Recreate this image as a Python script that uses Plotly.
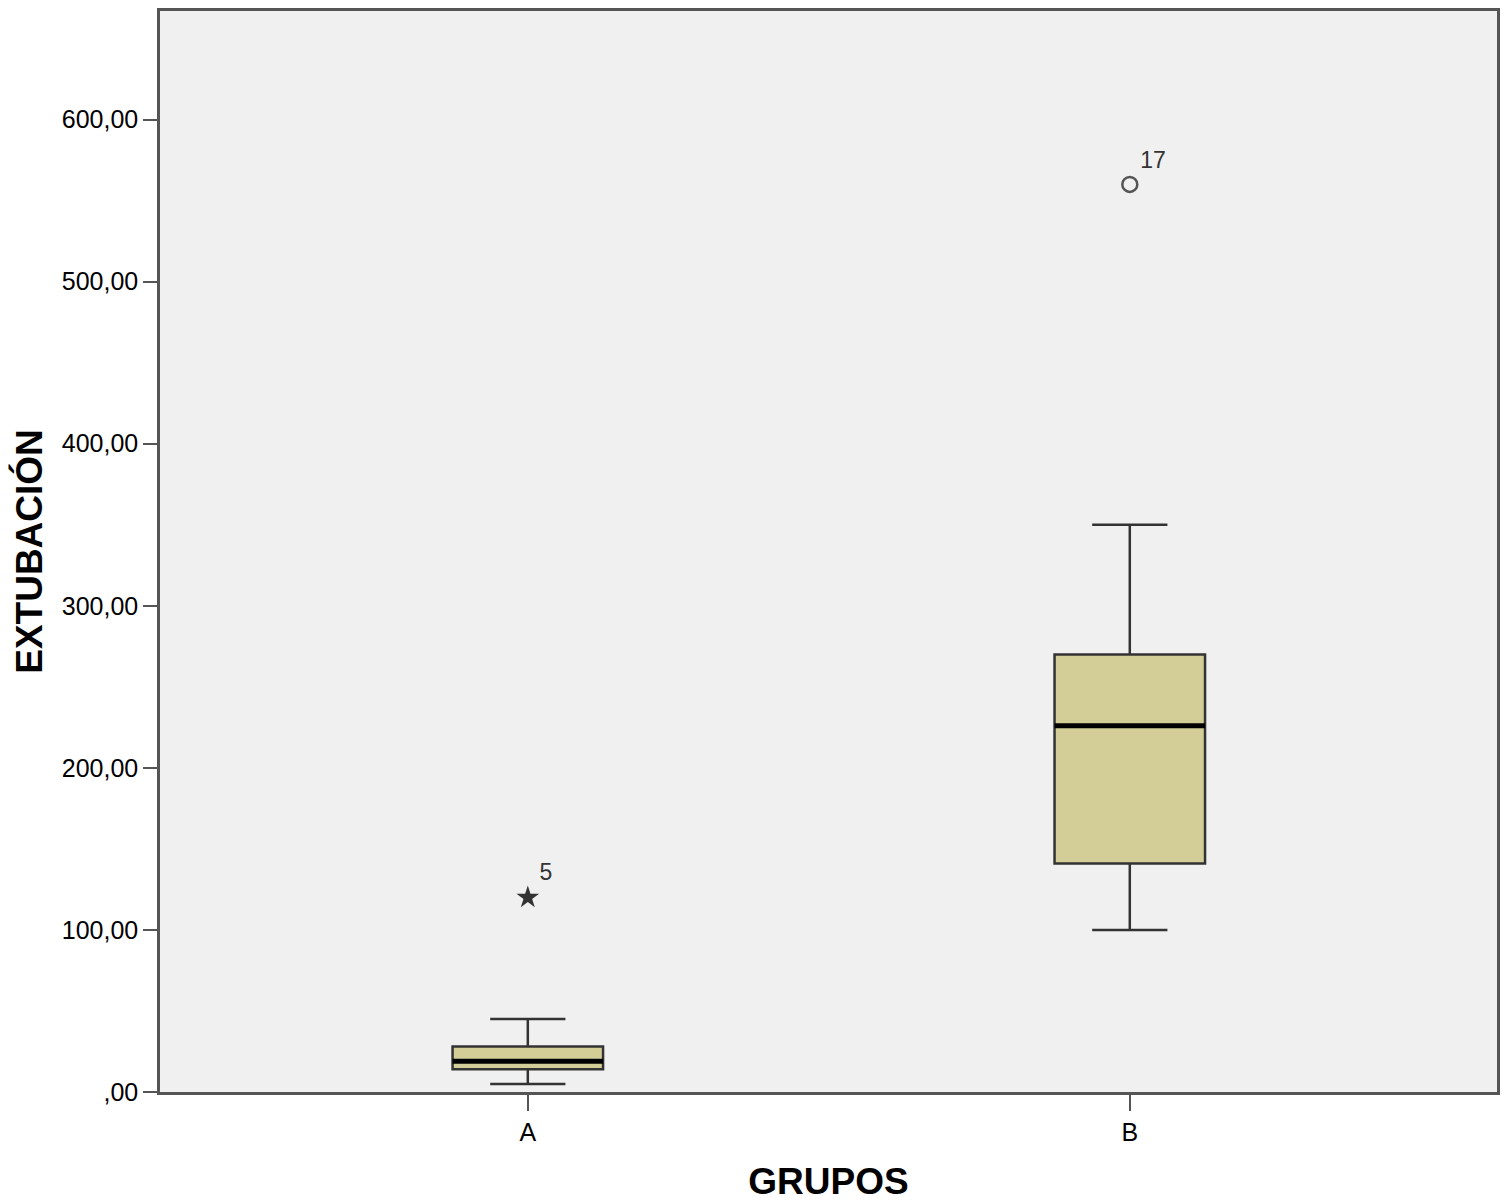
import plotly.graph_objects as go

# groups and box summary stats
grupos = ["A", "B"]
pos = [0, 1]
q1 = [14, 141]
mediana = [19, 226]
q3 = [28, 270]
bigote_inf = [5, 100]
bigote_sup = [45, 350]

# outliers: extreme (star) and mild (circle)
ext_grupo = [0]
ext_val = [120]
ext_caso = ["5"]
atip_grupo = [1]
atip_val = [560]
atip_caso = ["17"]

y_ticks = [0, 100, 200, 300, 400, 500, 600]
y_labels = [",00", "100,00", "200,00", "300,00", "400,00", "500,00", "600,00"]

box_w = 0.25
font = "Liberation Sans, Arial, sans-serif"

fig = go.Figure()
fig.add_trace(go.Box(
    x=pos, q1=q1, median=mediana, q3=q3,
    lowerfence=bigote_inf, upperfence=bigote_sup,
    width=box_w, whiskerwidth=0.5, boxpoints=False,
    fillcolor="#D3CE98", line=dict(color="#333333", width=2.5),
    showlegend=False, hoverinfo="skip"))

# thick median lines over the boxes
mx, my = [], []
for p, m in zip(pos, mediana):
    mx += [p - box_w / 2, p + box_w / 2, None]
    my += [m, m, None]
fig.add_trace(go.Scatter(x=mx, y=my, mode="lines",
                         line=dict(color="black", width=5),
                         showlegend=False, hoverinfo="skip"))

fig.add_trace(go.Scatter(
    x=ext_grupo, y=ext_val, mode="markers+text", text=ext_caso,
    textposition="top right", textfont=dict(family=font, size=23, color="#333"),
    marker=dict(symbol="star", size=17, color="#333"),
    showlegend=False, hoverinfo="skip"))
fig.add_trace(go.Scatter(
    x=atip_grupo, y=atip_val, mode="markers+text", text=atip_caso,
    textposition="top right", textfont=dict(family=font, size=23, color="#333"),
    marker=dict(symbol="circle-open", size=15, color="#555", line=dict(width=2.5)),
    showlegend=False, hoverinfo="skip"))

# page body has an 8px margin, so the figure is shrunk to fit
fig.update_layout(
    width=1500, height=1195, autosize=False,
    margin=dict(l=152, r=11, t=0, b=111),
    plot_bgcolor="#F0F0F0", paper_bgcolor="white",
    font=dict(family=font, color="black"),
)
fig.update_xaxes(
    range=[-0.611, 1.61], tickvals=pos, ticktext=grupos,
    tickfont=dict(size=25), ticks="outside", ticklen=16, tickcolor="#555", tickwidth=2,
    showgrid=False, zeroline=False,
    showline=True, linecolor="#555", linewidth=2.5, mirror=True,
    title=dict(text="<b>GRUPOS</b>", font=dict(size=37), standoff=24),
)
fig.update_yaxes(
    range=[0, 667], tickvals=y_ticks, ticktext=y_labels,
    tickfont=dict(size=25), ticks="outside", ticklen=14, tickcolor="#555", tickwidth=2,
    showgrid=False, zeroline=False,
    showline=True, linecolor="#555", linewidth=2.5, mirror=True,
    title=dict(text="<b>EXTUBACIÓN</b>", font=dict(size=37), standoff=14),
)

fig.write_html("out.html")
